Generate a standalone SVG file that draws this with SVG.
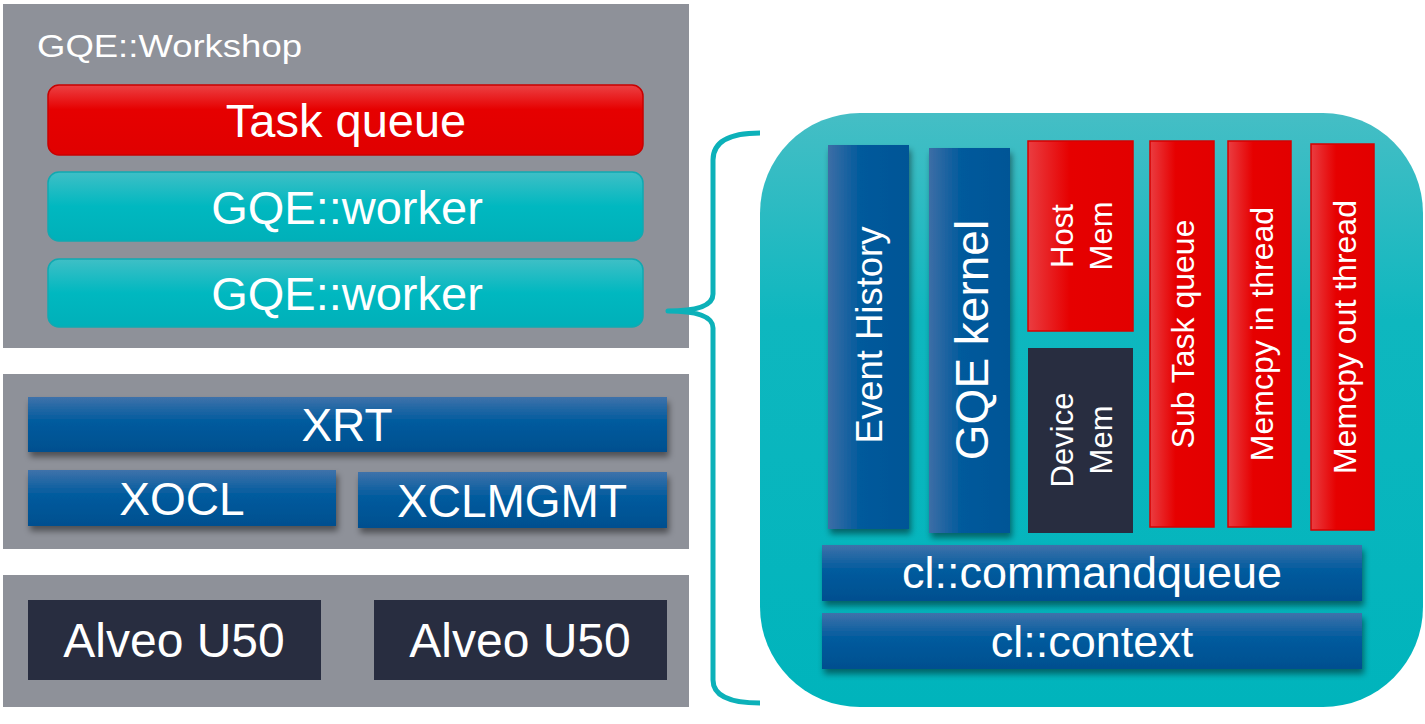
<svg xmlns="http://www.w3.org/2000/svg" width="1425" height="724" viewBox="0 0 1425 724">
<defs>
<linearGradient id="gRedV" x1="0" y1="0" x2="0" y2="1"><stop offset="0" stop-color="#ec4144"/><stop offset="0.35" stop-color="#e60000"/><stop offset="1" stop-color="#e00000"/></linearGradient>
<linearGradient id="gRedH" x1="0" y1="0" x2="1" y2="0"><stop offset="0" stop-color="#ea3d41"/><stop offset="0.4" stop-color="#e60000"/><stop offset="1" stop-color="#e20000"/></linearGradient>
<linearGradient id="gTealV" x1="0" y1="0" x2="0" y2="1"><stop offset="0" stop-color="#3fbfc6"/><stop offset="0.5" stop-color="#00b8c0"/><stop offset="1" stop-color="#00b0b9"/></linearGradient>
<linearGradient id="gPanel" x1="0" y1="0" x2="0" y2="1"><stop offset="0" stop-color="#45bec5"/><stop offset="0.35" stop-color="#0eb7bf"/><stop offset="1" stop-color="#00b4bc"/></linearGradient>
<linearGradient id="gBlueV" x1="0" y1="0" x2="0" y2="1"><stop offset="0" stop-color="#3f72aa"/><stop offset="0.45" stop-color="#005b9e"/><stop offset="1" stop-color="#004f8f"/></linearGradient>
<linearGradient id="gBlueH" x1="0" y1="0" x2="1" y2="0"><stop offset="0" stop-color="#3d6ea6"/><stop offset="0.4" stop-color="#005a9c"/><stop offset="1" stop-color="#005596"/></linearGradient>
<filter id="sh" x="-10%" y="-20%" width="130%" height="160%"><feDropShadow dx="2" dy="5" stdDeviation="3" flood-color="#000" flood-opacity="0.45"/></filter>
</defs>
<style>
.panel{fill:#8e9199}
.t{font-family:"Liberation Sans",Arial,sans-serif;fill:#fff;text-anchor:middle}
.blueV{fill:url(#gBlueV);filter:url(#sh)}
.blueH{fill:url(#gBlueH);filter:url(#sh)}
.redH{fill:url(#gRedH);stroke:#d60000;stroke-width:1.5}
.navy{fill:#282d40}
.brace{fill:none;stroke:#0cb1b9;stroke-width:5;stroke-linecap:butt;stroke-linejoin:round}
</style>

<g id="workshop">
<rect class="panel" x="3" y="4" width="686" height="344"/>
<text class="t" x="37" y="57" font-size="32" style="text-anchor:start" textLength="265" lengthAdjust="spacingAndGlyphs">GQE::Workshop</text>
</g>
<g id="task-queue">
<rect x="48" y="85" width="595" height="70" rx="11" fill="url(#gRedV)" stroke="#c80000" stroke-width="1.5"/>
<text class="t" x="346" y="137" font-size="47">Task queue</text>
</g>
<g id="worker-1">
<rect x="48" y="172" width="595" height="69" rx="11" fill="url(#gTealV)" stroke="#10a9b1" stroke-width="1.5"/>
<text class="t" x="347" y="224" font-size="47">GQE::worker</text>
</g>
<g id="worker-2">
<rect x="48" y="259" width="595" height="68" rx="11" fill="url(#gTealV)" stroke="#10a9b1" stroke-width="1.5"/>
<text class="t" x="347" y="310" font-size="47">GQE::worker</text>
</g>

<g id="driver-panel"><rect class="panel" x="3" y="374" width="686" height="175"/></g>
<g id="xrt"><rect class="blueV" x="28" y="397" width="639" height="55"/><text class="t" x="347" y="441" font-size="46">XRT</text></g>
<g id="xocl"><rect class="blueV" x="28" y="470" width="308" height="56"/><text class="t" x="182" y="515" font-size="46">XOCL</text></g>
<g id="xclmgmt"><rect class="blueV" x="358" y="472" width="309" height="56"/><text class="t" x="512" y="517" font-size="46">XCLMGMT</text></g>

<g id="hw-panel"><rect class="panel" x="3" y="575" width="686" height="132"/></g>
<g id="alveo-1"><rect class="navy" x="28" y="600" width="293" height="80"/><text class="t" x="174" y="657" font-size="48">Alveo U50</text></g>
<g id="alveo-2"><rect class="navy" x="374" y="600" width="293" height="80"/><text class="t" x="520" y="657" font-size="48">Alveo U50</text></g>

<g id="connectors">
<path class="brace" d="M 760 133 Q 713 133 713 160 L 713 294 Q 713 311 668 311 Q 713 311 713 328 L 713 680 Q 713 703 760 703"/>
</g>

<g id="worker-detail">
<rect x="760" y="113" width="663" height="594" rx="100" fill="url(#gPanel)"/>
</g>
<g id="event-history"><rect class="blueH" x="828" y="145" width="81" height="384"/><text class="t" font-size="36.5" transform="translate(882 335) rotate(-90)">Event History</text></g>
<g id="gqe-kernel"><rect class="blueH" x="929" y="148" width="81" height="385"/><text class="t" font-size="46" transform="translate(988 340) rotate(-90)">GQE kernel</text></g>
<g id="host-mem"><rect class="redH" x="1028" y="141" width="105" height="190"/><text class="t" font-size="31" transform="translate(1073 236) rotate(-90)">Host</text><text class="t" font-size="31" transform="translate(1112 236) rotate(-90)">Mem</text></g>
<g id="device-mem"><rect class="navy" x="1028" y="348" width="105" height="185"/><text class="t" font-size="31" transform="translate(1073 440) rotate(-90)">Device</text><text class="t" font-size="31" transform="translate(1112 440) rotate(-90)">Mem</text></g>
<g id="sub-task-queue"><rect class="redH" x="1150" y="141" width="64" height="386"/><text class="t" font-size="32" transform="translate(1194 334) rotate(-90)">Sub Task queue</text></g>
<g id="memcpy-in"><rect class="redH" x="1228" y="141" width="63" height="386"/><text class="t" font-size="32" transform="translate(1273 334) rotate(-90)">Memcpy in thread</text></g>
<g id="memcpy-out"><rect class="redH" x="1311" y="144" width="63" height="386"/><text class="t" font-size="32" transform="translate(1356 337) rotate(-90)">Memcpy out thread</text></g>
<g id="commandqueue"><rect class="blueV" x="822" y="545" width="540" height="56"/><text class="t" x="1092" y="588" font-size="45">cl::commandqueue</text></g>
<g id="context"><rect class="blueV" x="822" y="613" width="540" height="56"/><text class="t" x="1092" y="657" font-size="45">cl::context</text></g>
</svg>
